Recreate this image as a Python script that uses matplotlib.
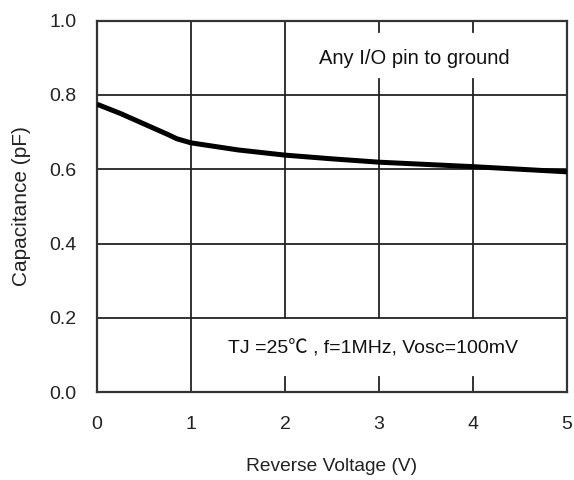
import matplotlib.pyplot as plt

# Capacitance vs reverse voltage
voltage = [0.0, 0.25, 0.5, 0.75, 0.85, 1.0, 1.5, 2.0, 2.5, 3.0, 3.5, 4.0, 4.5, 5.0]
capacitance = [0.775, 0.750, 0.722, 0.694, 0.682, 0.671, 0.652, 0.638, 0.628, 0.619, 0.613, 0.607, 0.600, 0.593]

x_ticks = [0, 1, 2, 3, 4, 5]
y_ticks = [0.0, 0.2, 0.4, 0.6, 0.8, 1.0]
x_labels = ['0', '1', '2', '3', '4', '5']
y_labels = ['0.0', '0.2', '0.4', '0.6', '0.8', '1.0']

plt.rcParams['font.family'] = ['Liberation Sans', 'Noto Sans CJK SC', 'DejaVu Sans']

fig = plt.figure(figsize=(5.74, 4.8), dpi=100)
ax = fig.add_axes([0.169, 0.183, 0.819, 0.774])

ax.plot(voltage, capacitance, color='black', linewidth=3.6, solid_capstyle='butt',
        solid_joinstyle='round', zorder=3)

ax.set_xlim(0, 5)
ax.set_ylim(0, 1.0)
ax.set_xticks(x_ticks)
ax.set_xticklabels(x_labels)
ax.set_yticks(y_ticks)
ax.set_yticklabels(y_labels)
ax.tick_params(length=0, labelsize=14, colors='#222222')
ax.tick_params(axis='x', pad=17)
ax.tick_params(axis='y', pad=15)

# horizontal grid lines run across the whole plot
for y in y_ticks[1:-1]:
    ax.axhline(y, color='#222222', linewidth=1.3, zorder=1)

# vertical grid lines are broken where the annotations sit
gl = dict(color='#222222', linewidth=1.3, zorder=1)
ax.axvline(1, 0, 1, **gl)
ax.axvline(2, 0.2, 1, **gl)
ax.axvline(2, 0, 0.04, **gl)
for x in [3, 4]:
    ax.axvline(x, 0.2, 0.8, **gl)
    ax.axvline(x, 0, 0.04, **gl)
    ax.axvline(x, 0.8, 0.843, **gl)
    ax.axvline(x, 0.97, 1, **gl)

for s in ax.spines.values():
    s.set_linewidth(1.6)
    s.set_color('#333333')

ax.text(3.38, 0.897, 'Any I/O pin to ground', ha='center', va='center', fontsize=14.5, color='#111111')
ax.text(2.94, 0.116, 'TJ =25\u2103 , f=1MHz, Vosc=100mV', ha='center', va='center', fontsize=14, color='#111111')

ax.set_xlabel('Reverse Voltage (V)', fontsize=13.8, labelpad=18, color='#222222')
ax.set_ylabel('Capacitance (pF)', fontsize=15, labelpad=13, color='#222222')

plt.savefig('out.png', dpi=100)
